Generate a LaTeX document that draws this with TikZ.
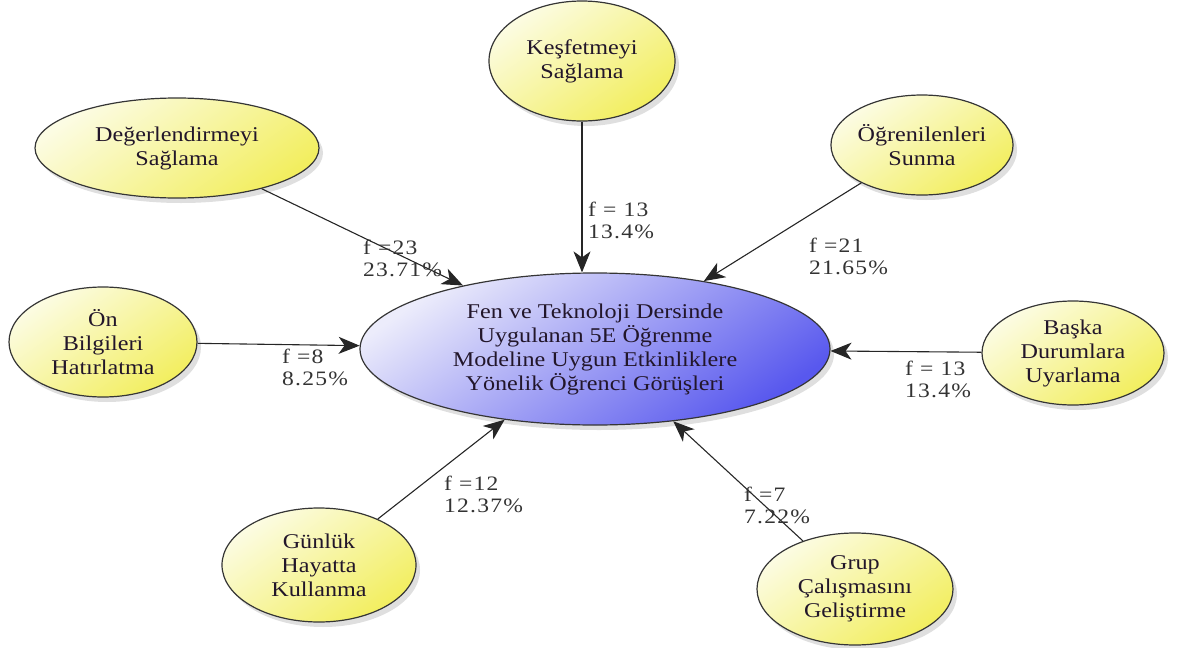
\documentclass[tikz,border=0pt]{standalone}
\usepackage{fontspec}
\setmainfont{Liberation Serif}[FakeStretch=1.15]
\newfontfamily\labfont{Liberation Serif}[FakeStretch=1.15, LetterSpace=6]
\usetikzlibrary{shapes.geometric,arrows.meta,shadows}
\definecolor{inkc}{HTML}{22162A}
\definecolor{labc}{HTML}{333333}
\definecolor{edgec}{HTML}{353535}
\definecolor{ylight}{HTML}{FCFCE4}
\definecolor{ydark}{HTML}{F2EE5E}
\definecolor{blight}{HTML}{ECECFB}
\definecolor{bdark}{HTML}{5858EE}
\tikzset{
  bubble/.style={ellipse, draw=edgec, line width=1.2pt, inner sep=0pt,
    align=center, text=inkc, font=\fontsize{21}{24}\selectfont,
    drop shadow={shadow xshift=4pt, shadow yshift=-5pt, opacity=0.18, fill=black!70}},
  topic/.style={bubble, top color=ylight, bottom color=ydark, shading angle=35},
  core/.style={bubble, top color=blight, bottom color=bdark, shading angle=35},
  arr/.style={draw=black!85, line width=1.1pt, -{Stealth[length=21pt,width=17pt,inset=6pt]}},
  freq/.style={anchor=west, align=left, text=labc, inner sep=0pt,
    font=\labfont\fontsize{20.5}{22}\selectfont}
}
\begin{document}
\begin{tikzpicture}[x=1pt,y=-1pt]
\useasboundingbox (0,0) rectangle (1195,648);

% central theme
\node[core, minimum width=470pt, minimum height=152pt] (main) at (595,349)
  {Fen ve Teknoloji Dersinde\\Uygulanan 5E Öğrenme\\Modeline Uygun Etkinliklere\\Yönelik Öğrenci Görüşleri};

% surrounding activity themes
\node[topic, minimum width=186pt, minimum height=120pt] (kesf) at (582,61) {Keşfetmeyi\\Sağlama};
\node[topic, minimum width=284pt, minimum height=100pt] (deger) at (177,148) {Değerlendirmeyi\\Sağlama};
\node[topic, minimum width=156pt, minimum height=100pt] (ogren) at (922,145) {Öğrenilenleri\\Sunma};
\node[topic, minimum width=188pt, minimum height=110pt] (onbil) at (103,342) {Ön\\Bilgileri\\Hatırlatma};
\node[topic, minimum width=182pt, minimum height=104pt] (baska) at (1073,353) {Başka\\Durumlara\\Uyarlama};
\node[topic, minimum width=194pt, minimum height=114pt] (gunluk) at (319,565) {Günlük\\Hayatta\\Kullanma};
\node[topic, minimum width=196pt, minimum height=112pt] (grup) at (855,589) {Grup\\Çalışmasını\\Geliştirme};

% connectors
\coordinate (kesfend) at (kesf.south |- main.north);
\draw[arr] (kesf.south) -- (kesfend);
\draw[arr] (deger) -- (main);
\draw[arr] (ogren) -- (main);
\draw[arr] (onbil) -- (main);
\draw[arr] (baska) -- (main);
\draw[arr] (gunluk) -- (main);
\draw[arr] (grup) -- (main);

% frequencies
\node[freq] (fkesf) at (588,220) {f = 13\\13.4\%};
\node[freq] (fdeger) at (363,258) {f =23\\23.71\%};
\node[freq] (fogren) at (809,256) {f =21\\21.65\%};
\node[freq] (fonbil) at (282,367) {f =8\\8.25\%};
\node[freq] (fbaska) at (905,379) {f = 13\\13.4\%};
\node[freq] (fgunluk) at (444,494) {f =12\\12.37\%};
\node[freq] (fgrup) at (744,505) {f =7\\7.22\%};
\end{tikzpicture}
\end{document}
